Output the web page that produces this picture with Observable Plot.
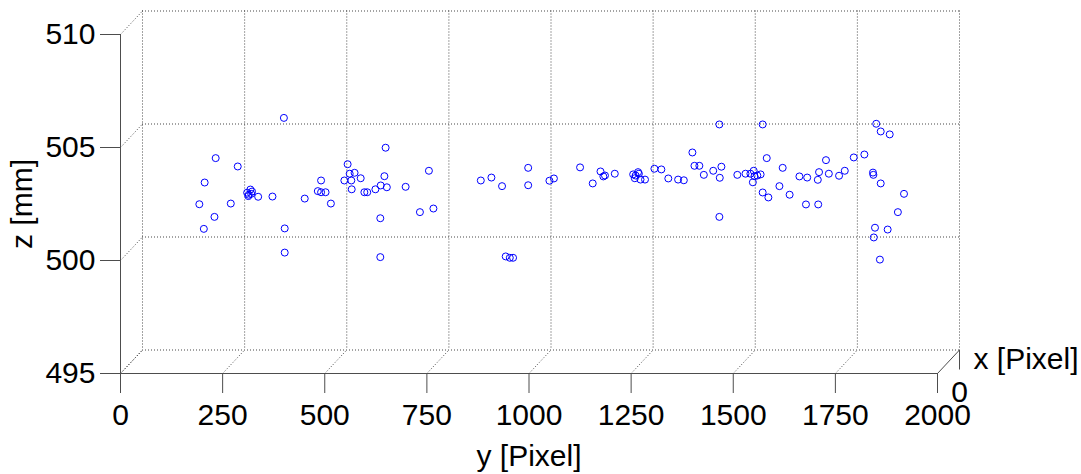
<!DOCTYPE html>
<html>
<head>
<meta charset="utf-8">
<script src="https://cdn.jsdelivr.net/npm/d3@7"></script>
<script src="https://cdn.jsdelivr.net/npm/@observablehq/plot@0.6"></script>
<style>
  html, body { margin: 0; padding: 0; background: #fff; }
</style>
</head>
<body>
<div id="chart"></div>
<script>
// y [Pixel] values of the points
const yVals = [193,204,206,230,233,270,287,310,314,318,322,320,313,337,372,400,402,402,451,483,
  491,502,491,515,548,556,561,573,565,566,588,597,604,624,637,646,652,649,636,636,
  698,733,755,766,882,908,934,943,953,961,998,998,1050,1061,1125,1156,1175,1186,1182,1210,
  1255,1261,1267,1269,1259,1273,1284,1307,1324,1341,1365,1379,1400,1405,1417,1428,1451,1471,1467,1466,
  1466,1510,1530,1542,1550,1552,1559,1567,1548,1572,1582,1572,1586,1613,1621,1638,1662,1681,1678,1708,
  1707,1710,1727,1734,1759,1773,1795,1821,1850,1861,1883,1842,1843,1861,1918,1903,1847,1878,1844,1859];
// z [mm] values of the points
const zVals = [502.49,501.40,503.45,501.93,504.53,502.52,504.16,503.00,502.91,503.14,503.05,502.95,502.85,502.82,502.83,506.31,501.42,500.35,502.74,503.07,
  503.02,503.02,503.54,502.52,503.54,504.26,503.84,503.88,503.54,503.15,503.64,503.02,503.02,503.15,503.32,503.73,503.24,504.99,501.87,500.15,
  503.26,502.14,503.97,502.30,503.54,503.67,503.29,500.18,500.12,500.12,504.10,503.33,503.53,503.63,504.12,503.41,503.94,503.76,503.72,503.84,
  503.81,503.76,503.91,503.84,503.64,503.58,503.58,504.06,504.03,503.63,503.58,503.55,504.78,504.19,504.19,503.79,503.97,504.15,503.66,506.02,
  501.93,503.79,503.84,503.84,503.97,503.73,503.76,503.81,503.46,506.02,504.53,503.01,502.79,503.29,504.10,502.91,503.72,503.67,502.48,502.48,
  503.57,503.91,504.44,503.84,503.75,503.97,504.56,504.69,506.05,505.71,505.58,503.89,503.79,503.41,502.95,502.14,501.45,501.37,501.02,500.04];

const yTicks = [0, 250, 500, 750, 1000, 1250, 1500, 1750, 2000];
const zTicks = [495, 500, 505, 510];
const xTickLabels = ["0"];

const points = yVals.map((y, i) => ({y, z: zVals[i]}));

// depth (x [Pixel]) direction of the 3D box, as offset in data units of y / z
const depthY = 22 * 2000 / 817;
const depthZ = 23.5 * 15 / 339;

const axisColor = "#4d4d4d";
const gridColor = "#333";
const dotted = "1,2";
const font = "Liberation Sans, Arial, Helvetica, sans-serif";

const plot = Plot.plot({
  width: 1081,
  height: 474,
  marginLeft: 120,
  marginRight: 144,
  marginTop: 34,
  marginBottom: 101,
  style: {fontFamily: font, fontSize: "30px", color: "black", background: "white", overflow: "visible"},
  x: {domain: [0, 2000]},
  y: {domain: [495, 510]},
  marks: [
    // back plane grid
    Plot.gridX(yTicks, {dx: 22, dy: -23.5, stroke: gridColor, strokeOpacity: 0.9, strokeDasharray: dotted}),
    Plot.gridY(zTicks, {dx: 22, dy: -23.5, stroke: gridColor, strokeOpacity: 0.9, strokeDasharray: dotted}),
    // floor depth lines
    Plot.link(yTicks.filter(t => t < 2000), {x1: d => d, y1: 495, x2: d => d + depthY, y2: 495 + depthZ,
      stroke: gridColor, strokeOpacity: 0.9, strokeDasharray: dotted}),
    // left wall depth lines
    Plot.link(zTicks, {x1: 0, y1: d => d, x2: depthY, y2: d => d + depthZ,
      stroke: gridColor, strokeOpacity: 0.9, strokeDasharray: dotted}),
    // x (depth) axis line and tick
    Plot.link([2000], {x1: d => d, y1: 495, x2: d => d + depthY, y2: 495 + depthZ, stroke: axisColor}),
    Plot.ruleX([2000 + depthY], {y1: 495 + depthZ, y2: 495 + depthZ - 20 * 15 / 339, stroke: axisColor}),
    Plot.text(xTickLabels, {x: 2000 + depthY, y: 495 + depthZ, text: d => d, dy: 51.5, lineAnchor: "bottom",
      textAnchor: "middle", fontSize: 30, fill: "black"}),
    Plot.text(["x [Pixel]"], {x: 2000, y: 495, text: d => d, dx: 36, dy: -5, lineAnchor: "bottom",
      textAnchor: "start", fontSize: 30, fill: "black"}),
    // front axes
    Plot.ruleY([495], {stroke: axisColor}),
    Plot.ruleX([0], {stroke: axisColor}),
    Plot.axisX(yTicks, {tickSize: 20, tickPadding: 10, stroke: axisColor, fill: "black", fontSize: 30,
      tickFormat: d => String(d), label: null}),
    Plot.axisY(zTicks, {tickSize: 20, tickPadding: 5, stroke: axisColor, fill: "black", fontSize: 30,
      tickFormat: d => String(d), label: null}),
    Plot.text(["y [Pixel]"], {frameAnchor: "bottom", text: d => d, dy: 92, lineAnchor: "bottom",
      textAnchor: "middle", fontSize: 30, fill: "black"}),
    Plot.text(["z [mm]"], {frameAnchor: "left", text: d => d, dx: -88.3, rotate: -90, lineAnchor: "bottom",
      textAnchor: "middle", fontSize: 30, fill: "black"}),
    // data points
    Plot.dot(points, {x: "y", y: "z", r: 3.5, stroke: "#0000ff", fill: "none", strokeWidth: 1})
  ]
});

document.getElementById("chart").appendChild(plot);
</script>
</body>
</html>
